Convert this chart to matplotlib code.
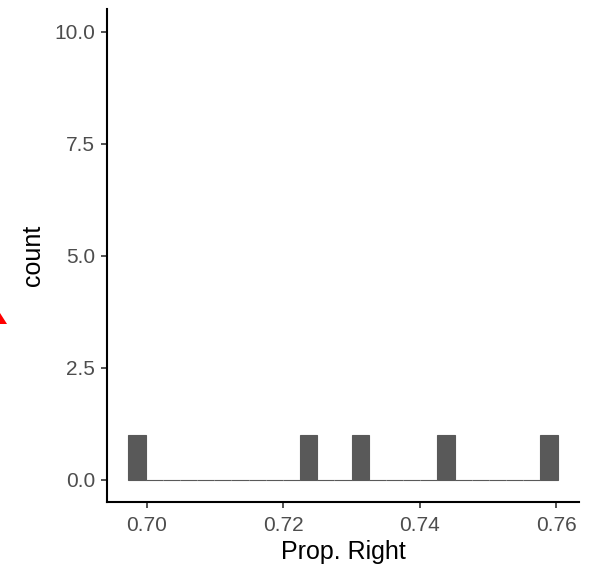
import numpy as np
import matplotlib
matplotlib.use("Agg")
import matplotlib.pyplot as plt
from matplotlib.patches import Polygon
from matplotlib.transforms import IdentityTransform

# Data
prop_right = [0.69858, 0.72376, 0.73131, 0.74389, 0.75899]
binwidth = 0.002516
xticks = [0.70, 0.72, 0.74, 0.76]
xtick_labels = ["0.70", "0.72", "0.74", "0.76"]
yticks = [0.0, 2.5, 5.0, 7.5, 10.0]
ytick_labels = ["0.0", "2.5", "5.0", "7.5", "10.0"]

plt.rcParams['font.family'] = ['Liberation Sans', 'DejaVu Sans']

W, H = 603, 569
fig = plt.figure(figsize=(W / 100, H / 100), dpi=100)
left, right, bottom, top = 107, 579, 502, 9.5
ax = fig.add_axes([left / W, 1 - bottom / H, (right - left) / W, (bottom - top) / H])

lo = min(prop_right) - binwidth / 2
n = int(round((max(prop_right) - min(prop_right)) / binwidth)) + 1
edges = lo + binwidth * np.arange(n + 1)
counts, _ = np.histogram(prop_right, bins=edges)

ax.bar(edges[:-1], counts, width=binwidth, align='edge', color='#595959',
       edgecolor='#595959', linewidth=0.8)

span = edges[-1] - edges[0]
ax.set_xlim(edges[0] - 0.05 * span, edges[-1] + 0.05 * span)
ax.set_ylim(-0.5, 10.5)

ax.set_xticks(xticks)
ax.set_xticklabels(xtick_labels)
ax.set_yticks(yticks)
ax.set_yticklabels(ytick_labels)

for s in ['top', 'right']:
    ax.spines[s].set_visible(False)
for s in ['left', 'bottom']:
    ax.spines[s].set_linewidth(1.5)
    ax.spines[s].set_color('black')

ax.tick_params(axis='both', length=4.5, width=1.2, color='#333333',
               labelcolor='#4D4D4D', labelsize=15)
ax.tick_params(axis='x', pad=5.5)
ax.tick_params(axis='y', pad=4)

ax.set_xlabel("Prop. Right", fontsize=18, color='black', labelpad=3.5)
ax.set_ylabel("count", fontsize=18, color='black', labelpad=7)

# red partial marker at left edge
tri = Polygon([[0, H - 313], [7, H - 324], [0, H - 324]], closed=True,
              facecolor='red', edgecolor='none')
tri.set_transform(IdentityTransform())
fig.patches.append(tri)

fig.savefig("out.png", dpi=100)
